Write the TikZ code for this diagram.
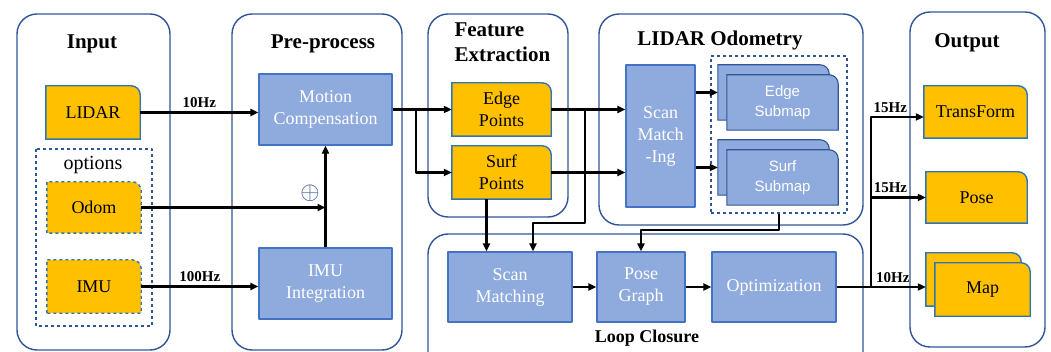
\documentclass[tikz,border=0pt]{standalone}
\usepackage{fontspec}
\setmainfont{Liberation Serif}
\setsansfont{Liberation Sans}
\usetikzlibrary{arrows.meta,backgrounds}
\definecolor{boxorange}{HTML}{FFC000}
\definecolor{edgeblue}{HTML}{2E75B6}
\definecolor{boxblue}{HTML}{8FAADC}
\definecolor{lineblue}{HTML}{4472C4}
\definecolor{grpblue}{HTML}{2F5597}
\begin{document}
\begin{tikzpicture}[x=1pt,y=-1pt,line join=round,
    grp/.style={draw=grpblue,line width=1.4pt,rounded corners=20pt},
    grptitle/.style={font=\fontsize{21}{25}\selectfont\bfseries,align=left},
    bluebox/.style={draw=lineblue,line width=1.2pt,fill=boxblue,text=white,align=center,font=\fontsize{18}{22}\selectfont},
    obox/.style={align=center,font=\fontsize{18}{22}\selectfont},
    subtext/.style={align=center,text=white,font=\sffamily\fontsize{15}{20}\selectfont},
    tabshape/.style={fill=boxorange,draw=edgeblue,line width=1.4pt},
    subshape/.style={fill=boxblue,draw=grpblue,line width=1.1pt},
    arr/.style={-{Triangle[length=8pt,width=7pt]},line width=2.2pt},
    hz/.style={font=\fontsize{15}{18}\selectfont\bfseries}]
    \useasboundingbox (0,0) rectangle (1051,352);
    \clip (0,0) rectangle (1051,352);
    % groups
    \draw[grp] (17,14) rectangle (170,350);
    \draw[grp] (232,14) rectangle (402,350);
    \draw[grp] (428,14) rectangle (568,217);
    \draw[grp] (599,14) rectangle (863,225);
    \draw[grp] (428,234) rectangle (863,375);
    \draw[grp] (910,12) rectangle (1045,347);
    \node[grptitle] (tin) at (92,44) {Input};
    \node[grptitle] (tpre) at (323,44) {Pre-process};
    \node[grptitle,anchor=west] (tfeat) at (451,42.5) {Feature\\Extraction};
    \node[grptitle] (todo) at (720,40) {LIDAR Odometry};
    \node[grptitle] (tout) at (967,43) {Output};
    \node[grptitle,font=\fontsize{18}{22}\selectfont\bfseries] (tloop) at (647,338) {Loop Closure};

    % input
    \node[obox,minimum width=94pt,minimum height=53pt] (lidar) at (93,112.5) {LIDAR};
    \draw[grpblue,dashed,line width=1.2pt] (36,149) rectangle (152,326);
    \node[font=\fontsize{20}{24}\selectfont] (opt) at (93,165) {options};
    \node[obox,minimum width=94pt,minimum height=51pt] (odom) at (94,207.5) {Odom};
    \node[obox,minimum width=94pt,minimum height=53pt] (imu) at (94,286.5) {IMU};

    % pre-process
    \node[bluebox,minimum width=133pt,minimum height=71pt] (motion) at (325.5,109.5) {Motion\\Compensation};
    \node[bluebox,minimum width=133pt,minimum height=71pt] (imuint) at (325.5,283.5) {IMU\\Integration};
    \node[text=grpblue,font=\fontsize{27}{30}\selectfont] (plus) at (310,193) {$\oplus$};

    % features
    \node[obox,minimum width=99pt,minimum height=53pt] (edge) at (501.5,109.5) {Edge\\Points};
    \node[obox,minimum width=99pt,minimum height=53pt] (surf) at (501.5,172.5) {Surf\\Points};

    % odometry
    \node[bluebox,minimum width=69pt,minimum height=142pt] (scanodo) at (660.5,136) {Scan\\Match\\-Ing};
    \node[draw=grpblue,dashed,line width=1.4pt,minimum width=136pt,minimum height=157pt] (subs) at (779,134.5) {};
    \node[minimum width=111pt,minimum height=55pt] (esb) at (773.5,92.5) {};
    \node[subtext,minimum width=111pt,minimum height=55pt] (esf) at (782.5,102.5) {Edge\\Submap};
    \node[minimum width=111pt,minimum height=55pt] (ssb) at (773.5,167.5) {};
    \node[subtext,minimum width=111pt,minimum height=55pt] (ssf) at (782.5,177.5) {Surf\\Submap};

    % loop closure
    \node[bluebox,minimum width=124pt,minimum height=70pt] (scanloop) at (510,287) {Scan\\Matching};
    \node[bluebox,minimum width=88pt,minimum height=70pt] (posegraph) at (641,287) {Pose\\Graph};
    \node[bluebox,minimum width=124pt,minimum height=70pt] (optim) at (774,287) {Optimization};

    % output
    \node[obox,minimum width=103pt,minimum height=52pt] (trans) at (975.5,112) {TransForm};
    \node[obox,minimum width=101pt,minimum height=51pt] (pose) at (976.5,197.5) {Pose};
    \node[minimum width=95pt,minimum height=53pt] (mapb) at (973.5,279.5) {};
    \node[obox,minimum width=95pt,minimum height=53pt] (mapf) at (982.5,289.5) {Map};

    \begin{scope}[on background layer]
        \foreach \n in {lidar,edge,surf,trans,pose,mapb,mapf}
            \draw[tabshape] (\n.south west) -- (\n.north west) -- ([xshift=-9pt]\n.north east)
                arc[start angle=90,end angle=0,radius=9pt] -- (\n.south east) -- cycle;
        \foreach \n in {odom,imu}
            \draw[tabshape,dashed] (\n.south west) -- (\n.north west) -- ([xshift=-9pt]\n.north east)
                arc[start angle=90,end angle=0,radius=9pt] -- (\n.south east) -- cycle;
        \foreach \n in {esb,esf,ssb,ssf}
            \draw[subshape] (\n.south west) -- (\n.north west) -- ([xshift=-9pt]\n.north east)
                arc[start angle=90,end angle=0,radius=9pt] -- (\n.south east) -- cycle;
    \end{scope}

    % connections
    \draw[arr] (lidar.east) -- (lidar -| motion.west) node[midway,above,hz]{10Hz};
    \draw[arr] (odom.east) -- (odom -| motion.south);
    \draw[arr] (imu.east) -- (imu -| imuint.west) node[midway,above,hz]{100Hz};
    \draw[arr] (imuint) -- (motion);
    \draw[arr] (motion.east) -- (edge.west);
    \draw[arr] (motion.east) -- ++(23,0) |- (surf.west);
    \draw[arr] (edge.east) -- (edge -| scanodo.west);
    \draw[arr] (surf.east) -- (surf -| scanodo.west);
    \draw[arr] ([xshift=-15pt]surf.south) -- ([xshift=-15pt]surf.south |- scanloop.north);
    \path (edge.east) -- ++(34,0) coordinate (br);
    \draw[arr] (br) -- ++(0,113.5) -| ([xshift=23pt]scanloop.north);
    \draw[arr] (scanodo.east |- esb) -- (esb.west);
    \draw[arr] (scanodo.east |- ssb) -- (ssb.west);
    \draw[arr] (subs.south) -- ++(0,16) -| (posegraph.north);
    \draw[arr] (scanloop) -- (posegraph);
    \draw[arr] (posegraph) -- (optim);
    \draw[arr] (optim.east) -- (optim.east -| mapb.west) node[pos=.63,above,hz]{10Hz};
    \path (optim.east) -- ++(34,0) coordinate (jn);
    \draw[arr] (jn) |- ([yshift=-5pt]trans.west) node[pos=.685,above,hz]{15Hz};
    \draw[arr] (jn |- pose.west) -- (pose.west) node[pos=.36,above,hz]{15Hz};
\end{tikzpicture}
\end{document}
